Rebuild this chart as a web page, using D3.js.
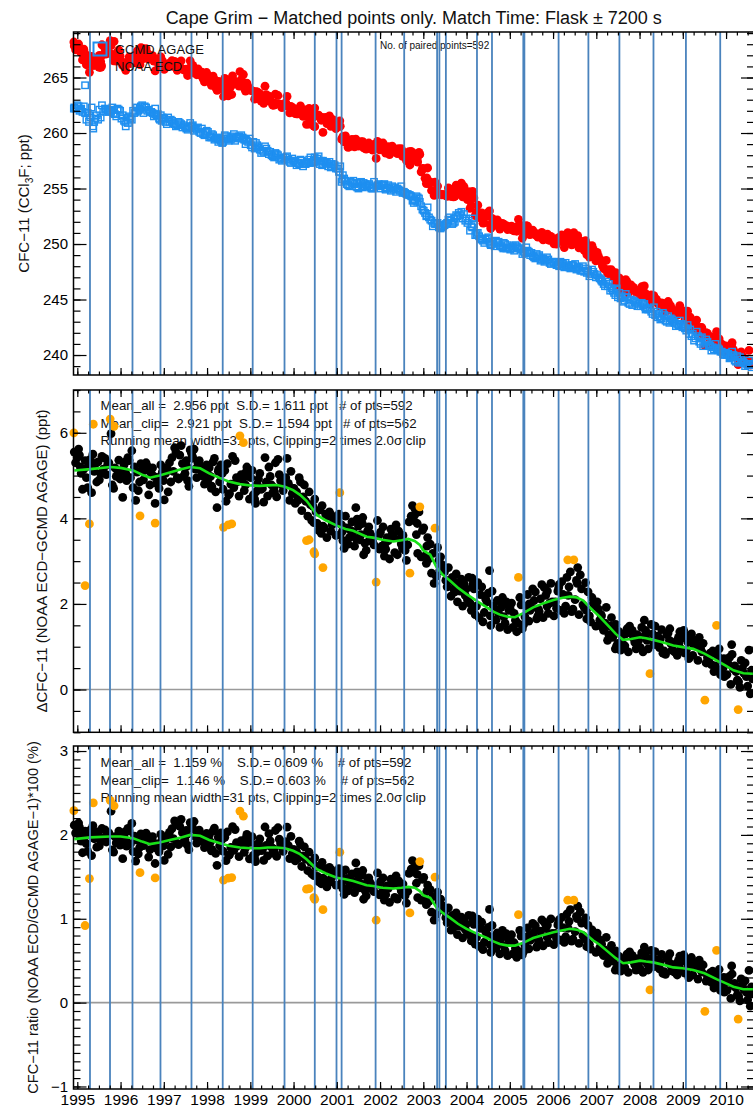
<!DOCTYPE html>
<html>
<head>
<meta charset="utf-8">
<script src="https://cdn.jsdelivr.net/npm/d3@7"></script>
<style>
  html, body { margin: 0; padding: 0; background: #fff; overflow: hidden; }
  svg { display: block; }
</style>
</head>
<body>
<svg id="chart" width="753" height="1108"></svg>
<script>
// ---------------------------------------------------------------------------
// Cape Grim CFC-11: paired GCMD AGAGE / NOAA ECD samples (decimal year).
// Points kept after the 2 x 2.0 sigma clipping.
// ---------------------------------------------------------------------------
const sampleDate = [
  1994.93,1995.00,1994.96,1995.05,1995.03,1995.07,1995.12,1995.09,1995.18,1995.24,1995.15,1995.21,1995.36,1995.30,1995.27,1995.33,1995.42,1995.39,1995.57,1995.45,1995.48,1995.54,1995.60,1995.51,1995.70,1995.64,1995.78,1995.67,1995.81,1995.73,1995.99,1995.93,1995.84,1995.96,1995.87,1995.90,
  1996.05,1996.02,1996.11,1996.14,1996.08,1996.12,1996.26,1996.20,1996.17,1996.23,1996.32,1996.29,1996.47,1996.35,1996.38,1996.44,1996.50,1996.41,1996.59,1996.53,1996.65,1996.56,1996.68,1996.62,1996.86,1996.80,1996.71,1996.83,1996.74,1996.77,1996.89,1996.93,1996.91,1996.97,1996.95,1996.99,
  1997.10,1997.04,1997.01,1997.07,1997.16,1997.13,1997.31,1997.19,1997.22,1997.28,1997.34,1997.25,1997.43,1997.37,1997.49,1997.40,1997.52,1997.46,1997.66,1997.61,1997.53,1997.64,1997.55,1997.58,1997.67,1997.73,1997.70,1997.79,1997.76,1997.82,1997.88,1997.85,1997.94,1997.99,1997.91,1997.97,
  1998.14,1998.02,1998.05,1998.11,1998.17,1998.08,1998.26,1998.20,1998.32,1998.23,1998.35,1998.29,1998.59,1998.52,1998.41,1998.55,1998.44,1998.47,1998.62,1998.68,1998.65,1998.74,1998.71,1998.79,1998.86,1998.82,1998.92,1998.98,1998.89,1998.95,1998.10,1998.27,1998.50,1998.70,1998.90,1998.37,
  1999.07,1999.01,1999.13,1999.04,1999.16,1999.10,1999.34,1999.28,1999.19,1999.31,1999.22,1999.25,1999.37,1999.43,1999.40,1999.49,1999.46,1999.52,1999.58,1999.55,1999.64,1999.70,1999.61,1999.67,1999.85,1999.76,1999.73,1999.82,1999.91,1999.88,1999.94,1999.97,1999.99,1999.79,1999.12,1999.56,
  2000.16,2000.10,2000.01,2000.13,2000.04,2000.07,2000.19,2000.25,2000.22,2000.33,2000.28,2000.36,2000.42,2000.39,2000.52,2000.58,2000.45,2000.55,2000.74,2000.64,2000.61,2000.71,2000.80,2000.77,2000.95,2000.83,2000.86,2000.92,2000.98,2000.89,2000.09,2000.47,2000.66,2000.68,2000.87,2000.49,
  2001.02,2001.08,2001.05,2001.14,2001.11,2001.17,2001.23,2001.20,2001.29,2001.35,2001.26,2001.32,2001.47,2001.41,2001.38,2001.44,2001.53,2001.50,2001.68,2001.56,2001.59,2001.65,2001.71,2001.62,2001.80,2001.74,2001.86,2001.77,2001.94,2001.83,2001.97,2001.99,2001.13,2001.45,2001.60,2001.75,
  2002.04,2002.01,2002.10,2002.16,2002.07,2002.13,2002.28,2002.22,2002.19,2002.25,2002.34,2002.31,2002.49,2002.37,2002.40,2002.46,2002.52,2002.43,2002.61,2002.55,2002.67,2002.58,2002.72,2002.64,2002.90,2002.84,2002.75,2002.87,2002.78,2002.81,2002.95,2002.98,2002.12,2002.53,2002.80,2002.86,
  2003.10,2003.04,2003.01,2003.07,2003.16,2003.13,2003.33,2003.19,2003.22,2003.30,2003.36,2003.25,2003.46,2003.40,2003.52,2003.43,2003.55,2003.49,2003.73,2003.67,2003.58,2003.70,2003.61,2003.64,2003.76,2003.82,2003.79,2003.88,2003.85,2003.91,2003.94,2003.97,2003.99,2003.08,2003.38,2003.71,
  2004.14,2004.02,2004.05,2004.11,2004.17,2004.08,2004.26,2004.20,2004.32,2004.23,2004.35,2004.29,2004.53,2004.47,2004.38,2004.50,2004.41,2004.44,2004.56,2004.62,2004.59,2004.68,2004.65,2004.71,2004.77,2004.74,2004.83,2004.89,2004.80,2004.86,2004.92,2004.95,2004.98,2004.13,2004.55,2004.85,
  2005.07,2005.01,2005.13,2005.04,2005.16,2005.10,2005.38,2005.32,2005.23,2005.35,2005.26,2005.29,2005.41,2005.47,2005.44,2005.53,2005.50,2005.56,2005.62,2005.59,2005.68,2005.74,2005.65,2005.71,2005.86,2005.80,2005.77,2005.83,2005.92,2005.89,2005.95,2005.98,2005.18,2005.45,2005.66,2005.87,
  2006.17,2006.11,2006.02,2006.14,2006.05,2006.08,2006.20,2006.26,2006.23,2006.32,2006.29,2006.37,2006.43,2006.40,2006.51,2006.57,2006.46,2006.54,2006.69,2006.63,2006.60,2006.66,2006.75,2006.72,2006.90,2006.78,2006.81,2006.87,2006.93,2006.84,2006.96,2006.99,2006.13,2006.35,2006.56,2006.77,
  2007.02,2007.08,2007.05,2007.14,2007.11,2007.17,2007.23,2007.20,2007.29,2007.35,2007.26,2007.32,2007.47,2007.41,2007.38,2007.44,2007.53,2007.50,2007.68,2007.56,2007.59,2007.65,2007.71,2007.62,2007.80,2007.74,2007.86,2007.77,2007.89,2007.83,2007.92,2007.95,2007.98,2007.12,2007.45,2007.66,
  2008.05,2008.02,2008.11,2008.17,2008.08,2008.14,2008.33,2008.27,2008.20,2008.30,2008.39,2008.36,2008.54,2008.42,2008.45,2008.51,2008.57,2008.48,2008.66,2008.60,2008.72,2008.63,2008.75,2008.69,2008.93,2008.87,2008.78,2008.90,2008.81,2008.84,2008.96,2008.99,2008.13,2008.46,2008.70,2008.91,
  2009.11,2009.05,2009.02,2009.08,2009.17,2009.14,2009.32,2009.20,2009.23,2009.29,2009.35,2009.26,2009.44,2009.38,2009.54,2009.41,2009.57,2009.47,2009.75,2009.69,2009.60,2009.72,2009.63,2009.66,2009.81,2009.87,2009.84,2009.93,2009.90,2009.96,2009.99,2009.12,2009.40,2009.64,2009.83,2009.95,
  2010.14,2010.02,2010.05,2010.11,2010.17,2010.08,2010.26,2010.20,2010.32,2010.23,2010.35,2010.29,2010.53,2010.47,2010.38,2010.50,2010.41,2010.44,2010.56,2010.59,2010.61,2010.13
];

// GCMD AGAGE mole fraction (ppt) for each sample
const agage = [
  262.3,262.5,262.2,262.0,262.4,262.1,261.9,262.2,261.8,261.8,262.4,261.2,260.6,261.4,261.0,262.3,261.3,261.0,262.5,261.6,261.2,261.4,261.9,262.1,262.0,262.2,261.9,262.1,262.3,261.9,262.0,262.2,261.8,262.1,261.7,261.5,
  261.6,261.3,261.0,261.4,261.1,260.6,261.2,261.5,260.9,261.3,261.8,262.0,262.4,261.9,262.3,262.2,262.5,262.0,262.3,261.8,262.1,262.4,261.9,262.0,261.7,262.2,261.9,261.6,261.8,261.5,261.3,261.6,261.2,261.4,261.1,261.3,
  261.4,261.0,261.3,260.8,261.2,261.0,260.7,261.1,260.9,260.6,261.0,260.8,260.5,260.9,260.6,260.8,260.4,260.7,260.6,260.9,260.5,260.6,260.3,260.5,260.7,260.4,260.2,260.5,260.3,260.1,260.4,260.0,259.8,260.2,259.9,260.0,
  259.8,260.1,259.6,259.9,259.4,259.7,259.2,259.5,259.3,259.6,259.1,259.4,259.7,259.5,259.8,259.4,259.7,259.5,259.9,259.6,259.3,259.7,259.5,259.8,259.4,259.6,259.3,259.5,259.0,259.2,259.6,259.5,259.3,259.6,259.4,259.2,
  259.2,258.9,259.1,258.7,258.9,258.6,258.8,258.4,258.7,258.3,258.5,258.2,258.6,258.1,258.4,258.0,258.3,257.9,258.2,257.8,258.0,257.7,258.1,257.6,257.9,257.8,257.5,257.8,257.4,257.6,257.3,257.7,257.5,257.6,258.8,258.1,
  257.6,257.3,257.5,257.2,257.4,257.1,257.5,257.3,257.0,257.4,257.2,257.6,257.3,257.8,257.5,257.9,257.4,257.7,257.3,257.5,257.2,257.4,257.0,257.3,257.1,257.4,256.9,257.2,256.8,257.0,257.3,257.6,257.1,257.5,257.2,257.8,
  256.8,257.0,256.5,256.2,255.6,255.9,255.4,255.7,255.2,255.5,255.3,255.6,255.1,255.4,255.7,255.2,255.5,255.0,255.3,255.6,255.1,255.4,255.2,255.5,255.0,255.3,255.6,255.1,255.3,255.0,255.4,255.2,255.8,255.5,255.2,255.4,
  255.3,255.0,255.4,255.1,255.3,254.9,255.2,255.0,255.3,254.8,255.1,254.9,255.2,254.7,255.0,254.8,254.6,254.9,254.5,254.7,254.4,254.6,254.3,254.5,254.1,254.3,253.9,254.2,253.7,253.9,253.4,253.1,255.0,254.7,254.0,253.8,
  253.3,252.8,253.0,252.5,252.2,252.4,251.9,252.1,251.6,251.8,251.5,251.9,251.6,251.4,251.8,251.5,251.9,251.7,252.0,251.8,252.2,251.9,252.4,252.1,252.6,252.8,252.5,252.9,252.6,252.3,252.7,252.1,252.3,252.6,251.7,252.3,
  252.3,251.9,252.1,251.6,251.8,251.2,251.0,250.8,250.5,250.9,250.4,250.7,250.2,250.5,250.3,250.6,250.1,250.4,249.9,250.2,250.0,250.3,249.8,250.1,249.9,250.2,249.7,250.0,249.8,250.1,249.6,249.9,249.7,251.5,250.0,249.6,
  249.8,249.5,249.9,249.6,249.8,249.4,249.7,249.3,249.6,249.2,249.5,249.1,249.4,249.0,249.3,248.9,249.2,248.8,249.1,248.7,249.0,248.6,248.9,248.5,248.8,248.4,248.7,248.5,248.3,248.6,248.2,248.4,249.7,249.2,248.8,248.6,
  248.4,248.1,248.3,248.0,248.4,248.1,248.3,247.9,248.2,248.0,248.3,247.9,248.1,247.8,248.2,247.9,248.1,247.7,248.0,247.6,247.9,247.6,247.8,247.5,247.7,247.4,247.6,247.3,247.5,247.1,247.3,247.0,248.2,248.1,247.8,247.6,
  247.2,246.9,247.0,246.6,246.8,246.4,246.6,246.2,246.4,246.0,246.2,245.8,246.0,245.6,245.8,245.4,245.6,245.2,245.5,245.1,245.3,244.9,245.2,244.8,245.0,244.7,244.9,244.6,244.8,244.5,244.7,244.4,244.6,246.7,245.9,245.2,
  244.7,244.4,244.6,244.2,244.5,244.1,244.3,243.9,244.1,243.7,243.9,243.6,243.8,243.4,243.7,243.3,243.6,243.2,243.5,243.1,243.3,243.0,243.2,242.9,243.1,242.8,243.0,242.7,242.9,242.6,242.8,242.5,244.3,243.5,243.1,242.7,
  242.7,242.4,242.6,242.2,242.3,241.9,242.1,241.7,241.9,241.5,241.7,241.3,241.6,241.2,241.4,241.0,241.2,240.8,241.0,240.7,240.9,240.5,240.8,240.4,240.6,240.3,240.5,240.1,240.3,240.0,240.2,242.4,241.5,240.8,240.4,240.1,
  240.3,240.0,240.1,239.8,240.0,239.7,239.9,239.5,239.8,239.4,239.6,239.3,239.5,239.2,239.4,239.1,239.3,239.0,239.2,238.9,239.1,239.9
];

// NOAA ECD minus GCMD AGAGE (ppt) for each sample
const delta = [
  5.55,5.42,5.30,5.48,5.62,5.20,4.68,5.05,5.35,4.72,5.15,4.95,5.50,5.38,5.22,4.60,5.28,5.10,5.45,4.85,5.32,5.05,5.15,4.90,5.25,5.40,5.98,5.02,4.78,5.30,4.92,5.12,4.70,5.36,5.18,4.98,
  4.49,5.10,5.32,4.88,5.25,5.05,5.58,5.35,5.42,4.95,5.20,4.72,5.28,4.42,5.08,4.85,5.15,4.65,5.30,4.90,4.55,5.12,4.78,5.22,4.95,4.35,5.05,4.82,5.18,4.98,4.70,5.25,4.92,5.10,5.02,4.88,
  4.62,5.05,4.43,5.18,4.85,5.30,4.95,5.42,5.10,5.55,4.92,5.65,5.28,5.48,5.05,5.70,5.35,4.98,5.45,5.60,5.22,5.52,4.88,4.75,5.40,5.15,5.62,5.28,4.95,5.35,5.08,5.20,4.80,5.25,4.98,5.12,
  5.32,4.90,5.18,4.75,5.40,4.98,5.10,4.62,5.25,4.25,5.05,4.85,5.45,4.58,5.12,4.80,4.40,5.28,4.72,4.95,5.35,4.52,4.88,5.02,4.65,4.92,5.20,4.45,4.78,4.98,4.70,5.15,4.55,4.85,5.08,4.68,
  4.55,4.95,4.62,5.12,4.80,4.45,5.42,4.70,4.92,4.38,5.05,4.68,4.85,5.20,4.52,4.78,4.98,4.60,5.30,4.72,5.38,4.88,4.50,5.02,5.40,4.65,4.78,4.95,4.42,4.82,5.10,4.58,4.70,4.90,4.35,4.62,
  4.85,4.42,4.70,4.95,4.35,4.62,4.18,4.78,4.50,4.05,4.40,4.62,3.95,4.32,4.15,3.72,4.28,3.88,4.10,3.65,4.20,3.78,4.05,3.55,3.92,4.15,3.70,3.98,3.60,3.85,4.52,3.90,4.30,3.82,4.08,4.45,
  3.95,3.62,4.10,3.48,3.85,3.30,3.78,4.05,3.55,3.92,3.40,3.72,3.98,3.35,3.68,4.25,3.50,3.82,3.25,3.62,3.88,3.42,3.70,3.15,3.58,3.80,3.38,3.65,3.95,3.45,3.60,3.28,3.70,3.52,4.02,3.48,
  3.35,3.68,3.12,3.55,3.80,3.28,3.62,3.05,3.48,3.75,3.20,3.58,3.40,3.85,3.15,3.52,3.30,3.70,3.02,3.45,3.92,3.25,4.05,3.38,4.15,3.62,4.30,3.18,3.95,4.22,3.10,3.72,3.42,3.60,4.08,3.88,
  3.55,3.12,3.78,2.95,3.40,3.05,3.32,2.72,3.18,2.65,3.02,2.48,2.85,3.10,2.55,2.92,2.40,2.75,2.28,2.62,2.85,2.35,2.55,2.18,2.70,2.42,2.05,2.58,2.30,1.95,2.48,2.20,2.35,3.35,2.78,2.52,
  2.45,2.10,2.62,1.85,2.35,2.02,2.50,1.75,2.22,1.95,2.40,1.68,2.78,2.05,1.58,2.25,1.80,2.12,1.50,1.95,2.30,1.62,1.88,2.08,1.45,1.78,2.15,1.55,1.92,1.70,2.05,1.40,1.85,2.60,1.72,1.98,
  1.45,1.88,1.62,2.02,1.35,1.78,1.95,1.52,2.15,1.70,1.98,1.42,2.22,1.85,1.60,2.35,1.90,2.08,1.65,2.28,1.82,2.45,1.72,2.12,1.95,2.38,1.68,2.20,2.02,1.78,2.48,2.05,1.55,2.00,1.88,2.30,
  1.85,2.30,1.72,2.45,2.05,1.90,2.52,1.78,2.22,2.62,1.95,2.40,1.82,2.75,2.10,2.85,1.88,2.55,1.98,2.68,1.75,2.35,2.50,1.92,2.15,1.65,2.28,1.58,2.02,1.72,1.95,1.48,2.38,2.20,2.48,1.85,
  2.05,1.62,1.88,1.45,1.75,1.38,1.92,1.55,1.28,1.68,1.15,1.48,1.02,1.40,1.22,0.95,1.35,1.08,1.30,0.92,1.25,0.98,1.42,1.05,1.32,0.88,1.20,1.48,1.10,1.38,0.95,1.28,1.15,1.72,1.52,1.02,
  1.45,0.98,1.62,1.15,0.88,1.38,1.05,1.52,0.95,1.30,1.12,1.48,0.85,1.25,1.02,1.40,0.90,1.18,1.32,0.82,1.08,1.28,0.92,1.15,1.35,0.80,1.05,1.22,0.88,1.12,0.95,1.20,1.28,0.98,1.42,1.08,
  1.25,0.85,1.38,0.92,1.12,0.72,1.05,1.30,0.80,1.15,0.68,1.02,0.88,1.22,0.62,0.95,0.75,1.08,0.55,0.90,0.70,0.42,0.85,0.58,0.78,0.35,0.95,0.50,0.68,0.30,0.62,1.10,0.98,0.82,0.45,0.72,
  0.82,0.35,0.60,0.12,0.48,0.75,0.22,0.55,0.05,0.42,0.68,0.18,0.92,0.30,0.50,0.08,0.38,0.62,-0.10,0.45,0.25,1.05
];

// Samples rejected by the sigma clipping
const clipDate  = [1994.92,1995.18,1995.28,1995.37,1995.76,1995.85,1996.45,1996.80,1998.38,1998.49,1998.57,1998.76,1998.84,2000.30,2000.36,2000.47,2000.49,2000.68,2001.07,2001.91,2002.69,2002.92,2003.27,2005.20,2006.34,2006.48,2008.24,2009.51,2009.78,2010.28];
const clipAgage = [262.2,264.3,261.6,260.4,262.0,262.1,262.1,261.7,259.5,259.5,259.6,259.6,259.5,257.3,257.3,257.4,257.4,257.2,256.5,255.2,254.4,253.8,251.8,249.6,248.0,248.0,244.2,241.1,240.6,239.6];
const clipDelta = [6.00,2.43,3.87,6.20,6.32,6.15,4.06,3.89,3.79,3.85,3.87,5.93,5.77,3.48,3.50,3.22,3.17,2.85,4.60,2.51,2.72,4.27,3.77,2.62,3.03,3.03,0.37,-0.25,1.50,-0.47];

// Dates marked by the vertical lines
const eventDate = [1995.293,1995.756,1996.276,1996.923,1997.640,1998.362,1999.055,1999.791,2000.491,2000.993,2001.111,2001.897,2002.558,2003.319,2003.372,2003.522,2004.241,2004.588,2005.312,2005.337,2006.128,2006.817,2007.534,2008.322,2009.072,2009.865];

// 31-point running means (difference in ppt, ratio in %)
const runDate  = [1994.93,1995.3,1995.76,1996.0,1996.29,1996.5,1996.68,1996.9,1997.14,1997.4,1997.61,1997.84,1998.05,1998.3,1998.5,1998.76,1999.0,1999.22,1999.4,1999.61,1999.8,1999.99,2000.15,2000.3,2000.42,2000.54,2000.75,2001.0,2001.2,2001.38,2001.69,2001.84,2002.05,2002.31,2002.5,2002.65,2002.8,2002.92,2003.0,2003.16,2003.31,2003.45,2003.62,2003.8,2004.0,2004.25,2004.47,2004.62,2004.77,2004.95,2005.12,2005.3,2005.54,2005.8,2006.01,2006.2,2006.39,2006.55,2006.7,2006.82,2006.93,2007.08,2007.24,2007.45,2007.62,2007.8,2008.01,2008.15,2008.32,2008.55,2008.78,2009.0,2009.24,2009.5,2009.78,2010.0,2010.17,2010.4,2010.62];
const runDelta = [5.12,5.15,5.20,5.18,5.12,5.02,4.95,5.00,5.07,5.15,5.20,5.17,5.05,4.94,4.86,4.80,4.77,4.76,4.77,4.78,4.74,4.66,4.55,4.41,4.25,4.08,3.95,3.83,3.75,3.71,3.57,3.55,3.50,3.46,3.49,3.52,3.47,3.38,3.25,3.15,2.85,2.68,2.54,2.38,2.23,2.06,1.92,1.82,1.75,1.70,1.69,1.78,1.92,2.02,2.09,2.14,2.17,2.15,2.08,1.95,1.84,1.70,1.53,1.30,1.16,1.18,1.22,1.20,1.16,1.10,1.03,0.99,0.95,0.84,0.68,0.55,0.45,0.38,0.37];
const runRatio = [1.95,1.97,1.98,1.98,1.96,1.92,1.89,1.91,1.94,1.97,2.00,1.99,1.94,1.90,1.87,1.85,1.84,1.84,1.85,1.85,1.84,1.81,1.77,1.71,1.65,1.59,1.54,1.49,1.47,1.45,1.40,1.39,1.37,1.36,1.37,1.38,1.37,1.33,1.28,1.25,1.13,1.07,1.01,0.94,0.88,0.82,0.77,0.73,0.70,0.68,0.68,0.71,0.77,0.81,0.84,0.86,0.88,0.87,0.84,0.79,0.74,0.69,0.62,0.53,0.47,0.48,0.50,0.49,0.48,0.45,0.42,0.41,0.39,0.35,0.28,0.23,0.19,0.16,0.16];

// Axis tick labels
const yearTicks  = [1995,1996,1997,1998,1999,2000,2001,2002,2003,2004,2005,2006,2007,2008,2009,2010];
const concTicks  = [240,245,250,255,260,265];
const diffTicks  = [0,2,4,6];
const ratioTicks = [-1,0,1,2,3];

// Text blocks
const titleText = "Cape Grim \u2212 Matched points only. Match Time: Flask \u00b1 7200 s";
const diffStats = [
  "Mean_all =  2.956 ppt  S.D.= 1.611 ppt   # of pts=592",
  "Mean_clip=  2.921 ppt  S.D.= 1.594 ppt   # of pts=562",
  "Running mean width=31 pts, Clipping=2 times 2.0\u03c3 clip"
];
const ratioStats = [
  "Mean_all =  1.159 %    S.D.= 0.609 %    # of pts=592",
  "Mean_clip=  1.146 %    S.D.= 0.603 %    # of pts=562",
  "Running mean width=31 pts, Clipping=2 times 2.0\u03c3 clip"
];

// ---------------------------------------------------------------------------
const FONT = '"Liberation Sans", Arial, Helvetica, sans-serif';
const C = {
  agage: "#1e8ff0", noaa: "#ff0000", kept: "#000000", clip: "#ffa500",
  run: "#18e018", event: "#4a83bd", zero: "#9a9a9a", axis: "#000000"
};

const X0 = 73.5, X1 = 754;
const x = d3.scaleLinear().domain([1994.912, 2010.646]).range([X0, X1]);

const yConc  = d3.scaleLinear().domain([238.2, 269.1]).range([375, 32]);
const yDiff  = d3.scaleLinear().domain([-1, 7]).range([732.3, 390]);
const yRatio = d3.scaleLinear().domain([-1.03, 3.06]).range([1089, 746]);

const kept = sampleDate.map((t, i) => ({
  t, agage: agage[i], noaa: agage[i] + delta[i], delta: delta[i],
  ratio: delta[i] / agage[i] * 100
}));
const clipped = clipDate.map((t, i) => ({
  t, agage: clipAgage[i], noaa: clipAgage[i] + clipDelta[i], delta: clipDelta[i],
  ratio: clipDelta[i] / clipAgage[i] * 100
}));
const allPts = kept.concat(clipped);
const run = runDate.map((t, i) => ({ t, delta: runDelta[i], ratio: runRatio[i] }));

const svg = d3.select("#chart").attr("font-family", FONT);

// Title
svg.append("text")
  .attr("x", (X0 + X1) / 2).attr("y", 23.5)
  .attr("text-anchor", "middle")
  .attr("font-size", 18).attr("fill", "#111")
  .text(titleText);

const quarterTicks = d3.range(7980, 8043).map(q => q / 4);

// Box, inward ticks on all four sides, labels on the left (and bottom if asked)
function frame(g, y, majors, minors, showYears) {
  const top = y.range()[1], bottom = y.range()[0];
  const styleAxis = sel => {
    sel.select(".domain").remove();
    sel.selectAll(".tick line").attr("stroke", C.axis).attr("stroke-width", 1.2);
    sel.attr("font-family", FONT).attr("font-size", 15);
    sel.selectAll(".tick text").attr("fill", "#000");
  };
  // left
  g.append("g").attr("transform", `translate(${X0},0)`)
    .call(d3.axisLeft(y).tickValues(minors).tickSize(-7).tickFormat(() => ""))
    .call(styleAxis);
  g.append("g").attr("transform", `translate(${X0},0)`)
    .call(d3.axisLeft(y).tickValues(majors).tickSize(-13).tickPadding(5.5).tickFormat(d3.format("d")))
    .call(styleAxis);
  // right
  g.append("g").attr("transform", `translate(${X1},0)`)
    .call(d3.axisRight(y).tickValues(minors).tickSize(-7).tickFormat(() => ""))
    .call(styleAxis);
  g.append("g").attr("transform", `translate(${X1},0)`)
    .call(d3.axisRight(y).tickValues(majors).tickSize(-13).tickFormat(() => ""))
    .call(styleAxis);
  // top
  g.append("g").attr("transform", `translate(0,${top})`)
    .call(d3.axisTop(x).tickValues(quarterTicks).tickSize(-3.5).tickFormat(() => ""))
    .call(styleAxis);
  g.append("g").attr("transform", `translate(0,${top})`)
    .call(d3.axisTop(x).tickValues(yearTicks).tickSize(-7).tickFormat(() => ""))
    .call(styleAxis);
  // bottom
  g.append("g").attr("transform", `translate(0,${bottom})`)
    .call(d3.axisBottom(x).tickValues(quarterTicks).tickSize(-3.5).tickFormat(() => ""))
    .call(styleAxis);
  g.append("g").attr("transform", `translate(0,${bottom})`)
    .call(d3.axisBottom(x).tickValues(yearTicks).tickSize(-7).tickPadding(5)
      .tickFormat(showYears ? d3.format("d") : () => ""))
    .call(styleAxis)
    .attr("font-size", 15.5);
  // box
  g.append("rect")
    .attr("x", X0).attr("y", top)
    .attr("width", X1 - X0).attr("height", bottom - top)
    .attr("fill", "none").attr("stroke", C.axis).attr("stroke-width", 1.5);
}

function eventLines(g, y) {
  g.append("g").selectAll("line").data(eventDate).join("line")
    .attr("x1", d => x(d)).attr("x2", d => x(d))
    .attr("y1", y.range()[1]).attr("y2", y.range()[0])
    .attr("stroke", C.event).attr("stroke-width", 1.8);
}

function zeroLine(g, y) {
  g.append("line")
    .attr("x1", X0).attr("x2", X1)
    .attr("y1", y(0)).attr("y2", y(0))
    .attr("stroke", C.zero).attr("stroke-width", 1.6);
}

function statsBlock(g, lines, y0) {
  g.append("g").selectAll("text").data(lines).join("text")
    .attr("x", 100.5).attr("y", (d, i) => y0 + i * 17.5)
    .attr("font-size", 13.3).attr("fill", "#111")
    .attr("xml:space", "preserve").style("white-space", "pre")
    .text(d => d);
}

function yTitle(parts, cx, cy, size) {
  const t = svg.append("text")
    .attr("transform", `translate(${cx},${cy}) rotate(-90)`)
    .attr("text-anchor", "middle").attr("font-size", size).attr("fill", "#111");
  parts.forEach(p => {
    const s = t.append("tspan").text(p.text);
    if (p.sub) s.attr("font-size", size * 0.68).attr("dy", 4);
    if (p.after) s.attr("dy", -4);
  });
}

// ---------------- Panel 1: mole fractions ----------------
const p1 = svg.append("g");
p1.append("text").attr("x", 380).attr("y", 49)
  .attr("font-size", 10).attr("fill", "#111")
  .text("No. of paired points=592");

p1.append("g").selectAll("circle").data(allPts).join("circle")
  .attr("cx", d => x(d.t)).attr("cy", d => yConc(d.noaa)).attr("r", 4.4)
  .attr("fill", C.noaa);

p1.append("g").selectAll("rect").data(allPts).join("rect")
  .attr("x", d => x(d.t) - 3.2).attr("y", d => yConc(d.agage) - 3.2)
  .attr("width", 6.4).attr("height", 6.4)
  .attr("fill", "none").attr("stroke", C.agage).attr("stroke-width", 1.4);

eventLines(p1, yConc);

// legend
p1.append("rect").attr("x", 93.5).attr("y", 42.5).attr("width", 13).attr("height", 13)
  .attr("fill", "none").attr("stroke", C.agage).attr("stroke-width", 2);
p1.append("circle").attr("cx", 100).attr("cy", 66).attr("r", 6).attr("fill", C.noaa);
p1.append("text").attr("x", 115).attr("y", 54).attr("font-size", 13).attr("fill", "#111").text("GCMD AGAGE");
p1.append("text").attr("x", 115).attr("y", 71).attr("font-size", 13).attr("fill", "#111").text("NOAA ECD");

frame(p1, yConc, concTicks, d3.range(239, 270), false);

// ---------------- Panel 2: differences ----------------
const p2 = svg.append("g");
statsBlock(p2, diffStats, 410);
zeroLine(p2, yDiff);
p2.append("g").selectAll("circle").data(kept).join("circle")
  .attr("cx", d => x(d.t)).attr("cy", d => yDiff(d.delta)).attr("r", 4.4).attr("fill", C.kept);
p2.append("g").selectAll("circle").data(clipped).join("circle")
  .attr("cx", d => x(d.t)).attr("cy", d => yDiff(d.delta)).attr("r", 4.4).attr("fill", C.clip);
p2.append("path").datum(run)
  .attr("d", d3.line().x(d => x(d.t)).y(d => yDiff(d.delta)))
  .attr("fill", "none").attr("stroke", C.run).attr("stroke-width", 2.6);
eventLines(p2, yDiff);
frame(p2, yDiff, diffTicks, d3.range(-2, 15).map(v => v / 2), false);

// ---------------- Panel 3: ratios ----------------
const p3 = svg.append("g");
statsBlock(p3, ratioStats, 767);
zeroLine(p3, yRatio);
p3.append("g").selectAll("circle").data(kept).join("circle")
  .attr("cx", d => x(d.t)).attr("cy", d => yRatio(d.ratio)).attr("r", 4.4).attr("fill", C.kept);
p3.append("g").selectAll("circle").data(clipped).join("circle")
  .attr("cx", d => x(d.t)).attr("cy", d => yRatio(d.ratio)).attr("r", 4.4).attr("fill", C.clip);
p3.append("path").datum(run)
  .attr("d", d3.line().x(d => x(d.t)).y(d => yRatio(d.ratio)))
  .attr("fill", "none").attr("stroke", C.run).attr("stroke-width", 2.6);
eventLines(p3, yRatio);
frame(p3, yRatio, ratioTicks, d3.range(-10, 31).map(v => v / 10), true);

// ---------------- Axis titles ----------------
yTitle([{ text: "CFC\u221211 (CCl" }, { text: "3", sub: true }, { text: "F; ppt)", after: true }], 29, 203.5, 15);
yTitle([{ text: "\u0394CFC\u221211 (NOAA ECD\u2212GCMD AGAGE) (ppt)" }], 46.5, 561, 15);
yTitle([{ text: "CFC\u221211 ratio (NOAA ECD/GCMD AGAGE\u22121)*100 (%)" }], 37.5, 917.5, 14.6);
</script>
</body>
</html>
